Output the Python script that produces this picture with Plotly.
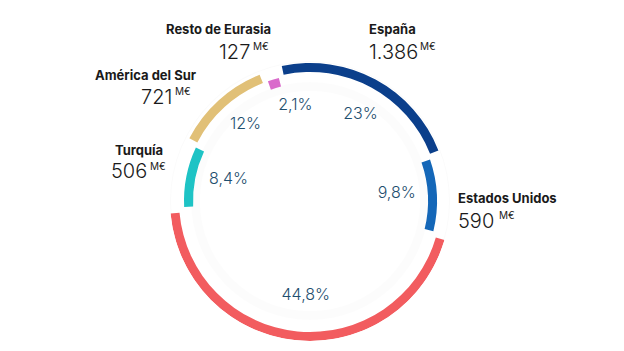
import plotly.graph_objects as go

# ---- data ----
regions = ["España", "Estados Unidos", "México", "Turquía", "América del Sur", "Resto de Eurasia"]
pct = [23, 9.8, 44.8, 8.4, 12, 2.1]
pct_text = ["23%", "9,8%", "44,8%", "8,4%", "12%", "2,1%"]
amounts = ["1.386", "590", None, "506", "721", "127"]
unit = "M€"

# ---- style ----
colors = ["#0b3f8b", "#1467b8", "#f25c5f", "#1ec3c5", "#e1c077", "#d96bcb"]
inner_r = [129, 118, 131, 117, 127, 118]
thick = 9
start_angle = 347
gap = 1.2
label_r = [100, 87, 95, 84, 100, 96]
label_dtheta = [2, -2, -3, 3, 2, 8]
text_color = "#1f4f6f"

# angles from data
total = sum(pct)
spans = [p / total * 360 for p in pct]
mids = []
acc = start_angle
for s in spans:
    mids.append(acc + s / 2)
    acc += s

fig = go.Figure()

# soft shadow bands
fig.add_trace(go.Barpolar(theta=[0], width=[360], base=[139], r=[6],
                          marker=dict(color="rgba(0,0,0,0.02)", line=dict(width=0)),
                          hoverinfo="skip", showlegend=False))
fig.add_trace(go.Barpolar(theta=[0], width=[360], base=[110], r=[9],
                          marker=dict(color="rgba(0,0,0,0.012)", line=dict(width=0)),
                          hoverinfo="skip", showlegend=False))

fig.add_trace(go.Barpolar(
    theta=mids,
    width=[s - 2 * gap for s in spans],
    base=inner_r,
    r=[thick] * len(pct),
    marker=dict(color=colors, line=dict(width=0)),
    text=regions,
    hoverinfo="text",
    showlegend=False,
))

fig.add_trace(go.Scatterpolar(
    theta=[m + d for m, d in zip(mids, label_dtheta)],
    r=label_r,
    mode="text",
    text=pct_text,
    textfont=dict(family="Inter", size=16, color=text_color, weight=300),
    hoverinfo="skip",
    showlegend=False,
))

W, H = 624, 351
cx, cy, R = 310, 201, 140

fig.update_layout(
    width=W, height=H,
    margin=dict(l=0, r=0, t=0, b=0),
    paper_bgcolor="white",
    plot_bgcolor="white",
    polar=dict(
        domain=dict(x=[(cx - R) / W, (cx + R) / W], y=[(H - cy - R) / H, (H - cy + R) / H]),
        bgcolor="rgba(0,0,0,0)",
        barmode="overlay",
        radialaxis=dict(range=[0, R], visible=False, showgrid=False, showline=False),
        angularaxis=dict(rotation=90, direction="clockwise", visible=False,
                         showgrid=False, showline=False, showticklabels=False, ticks=""),
    ),
)

name_font = dict(family="Inter", size=13, color="#1a1a1a", weight=700)
num_font = dict(family="Inter", size=20, color="#1a1a1a", weight=300)
unit_font = dict(family="Inter", size=10, color="#1a1a1a", weight=400)

# label layout in pixels: name x, name y, number x-edge, number y, unit x-left, unit y, anchor
label_pos = {
    "España": (368, 29, 368, 52, 419, 46, "left"),
    "Estados Unidos": (457, 198, 457, 221, 498, 215, "left"),
    "Turquía": (164, 150, 148, 171, 149, 166, "right"),
    "América del Sur": (198, 75, 173, 97, 174, 91, "right"),
    "Resto de Eurasia": (272, 29, 251, 52, 252, 46, "right"),
}

def px(x, y):
    return x / W, 1 - y / H

for reg, amt in zip(regions, amounts):
    if amt is None:
        continue
    nx, ny, vx, vy, ux, uy, anc = label_pos[reg]
    x, y = px(nx, ny)
    fig.add_annotation(x=x, y=y, xref="paper", yref="paper", text=reg, showarrow=False,
                       xanchor=anc, yanchor="middle", font=name_font, borderpad=0)
    x, y = px(vx, vy)
    fig.add_annotation(x=x, y=y, xref="paper", yref="paper", text=amt, showarrow=False,
                       xanchor=anc, yanchor="middle", font=num_font, borderpad=0)
    x, y = px(ux, uy)
    fig.add_annotation(x=x, y=y, xref="paper", yref="paper", text=unit, showarrow=False,
                       xanchor="left", yanchor="middle", font=unit_font, borderpad=0)

fig.write_html("out.html")
